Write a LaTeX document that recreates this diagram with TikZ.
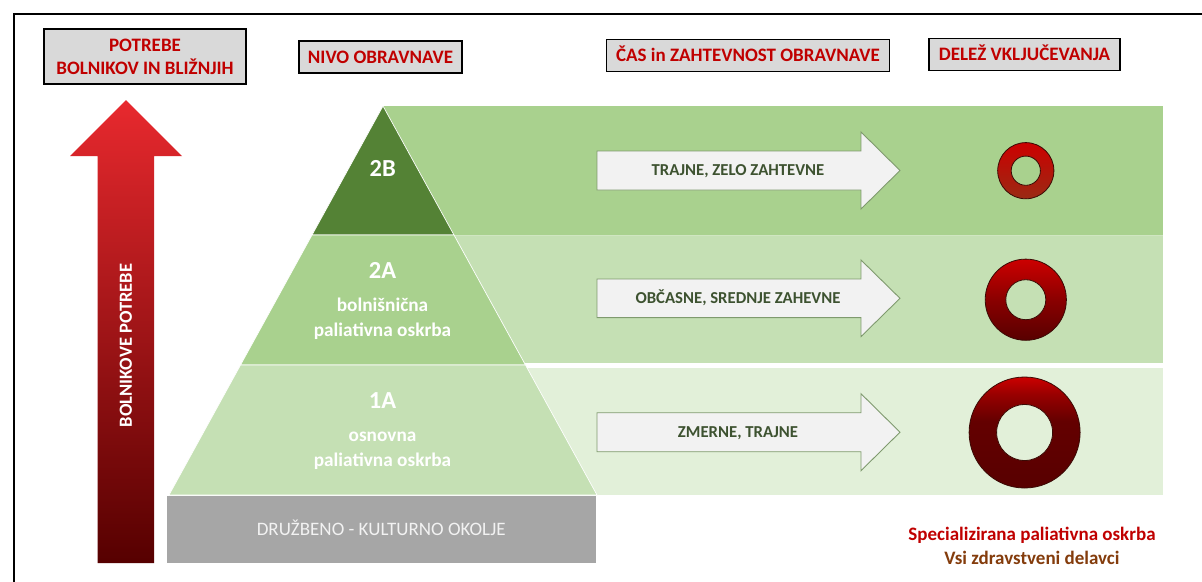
\documentclass[tikz,border=0pt]{standalone}
\usepackage{fontspec}
\setmainfont{Carlito}
\definecolor{hdrred}{HTML}{C00000}
\definecolor{hdrgray}{HTML}{D9D9D9}
\definecolor{gdark}{HTML}{548235}
\definecolor{gmid}{HTML}{A9D18E}
\definecolor{glight}{HTML}{C5E0B4}
\definecolor{gpale}{HTML}{E2F0D9}
\definecolor{basegray}{HTML}{A6A6A6}
\definecolor{arrfill}{HTML}{F2F2F2}
\definecolor{arrline}{HTML}{7F9A6E}
\definecolor{arrtext}{HTML}{3D5230}
\definecolor{brownish}{HTML}{843C0C}
\definecolor{redtop}{HTML}{E8292E}
\definecolor{redmid}{HTML}{A8161B}
\definecolor{redbot}{HTML}{560000}
\definecolor{dnline}{HTML}{3A0A05}
\definecolor{dnred}{HTML}{CC0000}
\definecolor{dnbrown}{HTML}{9A2A14}
\definecolor{dndark}{HTML}{580000}
\definecolor{dnmid}{HTML}{8A0000}
\pgfdeclareverticalshading{dntwo}{100bp}{color(0bp)=(dndark); color(25bp)=(dndark); color(50bp)=(dnmid); color(75bp)=(dnred); color(100bp)=(dnred)}
\pgfdeclareverticalshading{dnthree}{100bp}{color(0bp)=(dndark); color(25bp)=(dndark); color(55bp)=(dndark!90!dnred); color(67bp)=(dnmid!80!dnred); color(75bp)=(dnred); color(100bp)=(dnred)}
\tikzset{
  hdrbox/.style={draw=black, line width=1.4pt, fill=hdrgray, text=hdrred, inner sep=0pt,
    font=\bfseries\fontsize{19}{23}\selectfont, align=center},
  onetext/.style={text height=12.2pt, text depth=0pt},
  widearrow/.style={fill=arrfill, draw=arrline, line width=0.9pt},
  arrlabel/.style={text=arrtext, inner sep=0pt, font=\bfseries\fontsize{16.7}{20}\selectfont,
    text height=10.7pt, text depth=0pt},
  levelname/.style={anchor=base, text=white, inner sep=0pt, font=\bfseries\fontsize{24.5}{28}\selectfont},
  levelsub/.style={anchor=base, text=white, inner sep=0pt, font=\bfseries\fontsize{19.3}{22}\selectfont},
  pyr/.style={draw=white, line width=0.7pt},
  dnring/.style={draw=dnline, line width=0.8pt},
}
\begin{document}
\begin{tikzpicture}[x=1pt,y=-1pt]
\useasboundingbox (0,0) rectangle (1202,581);
\fill[white] (0,0) rectangle (1202,581);
% frame
\draw[line width=2pt, black] (14,590) -- (14,13.5) -- (1210,13.5);

% header boxes
\node[hdrbox, minimum width=201.7pt, minimum height=55pt] (needsbox) at (145,56.5) {POTREBE\\BOLNIKOV IN BLIŽNJIH};
\node[hdrbox, onetext, minimum width=163pt, minimum height=32pt] (levelbox) at (380.5,57) {NIVO OBRAVNAVE};
\node[hdrbox, onetext, minimum width=283pt, minimum height=32pt] (timebox) at (748,55.5) {ČAS in ZAHTEVNOST OBRAVNAVE};
\node[hdrbox, onetext, minimum width=191pt, minimum height=32pt] (sharebox) at (1024.5,54.5) {DELEŽ VKLJUČEVANJA};

% bands
\fill[gmid] (383,106) rectangle (1163,234.5);
\fill[glight] (383,235.5) rectangle (1163,363.3);
\fill[gpale] (383,367.7) rectangle (1163,495);
\draw[white!45!gmid, line width=1pt] (454,235) -- (1163,235);

% pyramid
\filldraw[pyr, fill=gdark] (383,106) -- (454,235) -- (312,235) -- cycle;
\filldraw[pyr, fill=gmid] (312,235) -- (454,235) -- (525.5,365) -- (240.5,365) -- cycle;
\filldraw[pyr, fill=glight] (240.5,365) -- (525.5,365) -- (597,495) -- (169,495) -- cycle;

\node[levelname] (l2b) at (382.8,176.7) {2B};
\node[levelname] (l2a) at (382.5,278.3) {2A};
\node[levelsub] (l2asub) at (382.5,311) {bolnišnična};
\node[levelsub] (l2asub2) at (382.5,336.7) {paliativna oskrba};
\node[levelname] (l1a) at (382.5,408.3) {1A};
\node[levelsub] (l1asub) at (382.5,441.7) {osnovna};
\node[levelsub] (l1asub2) at (382.5,466) {paliativna oskrba};

% base
\node[fill=basegray, minimum width=429.5pt, minimum height=67pt, inner sep=0pt,
  text=arrfill, font=\fontsize{19}{22}\selectfont, text height=12.2pt, text depth=0pt]
  (base) at (381.25,529.5) {DRUŽBENO - KULTURNO OKOLJE};

% red arrow
\shade[top color=redtop, middle color=redmid, bottom color=redbot]
  (126,100) -- (182,156) -- (154,156) -- (154,563) -- (97.6,563) -- (97.6,156) -- (70,156) -- cycle;
\node[rotate=90, text=white, inner sep=0pt, font=\bfseries\fontsize{18.5}{22}\selectfont,
  text height=11.9pt, text depth=0pt] (needs) at (125.8,345.5) {BOLNIKOVE POTREBE};

% white arrows
\draw[widearrow] (597,151) -- (861,151) -- (861,132) -- (900,170.5) -- (861,209) -- (861,190) -- (597,190) -- cycle;
\node[arrlabel] (t1) at (738,170.5) {TRAJNE, ZELO ZAHTEVNE};
\draw[widearrow] (597,279) -- (861,279) -- (861,260) -- (900,298.3) -- (861,336.6) -- (861,317.6) -- (597,317.6) -- cycle;
\node[arrlabel] (t2) at (738,298.3) {OBČASNE, SREDNJE ZAHEVNE};
\draw[widearrow] (597,412.7) -- (861,412.7) -- (861,393.7) -- (900,432.2) -- (861,470.7) -- (861,451.7) -- (597,451.7) -- cycle;
\node[arrlabel] (t3) at (738,432.2) {ZMERNE, TRAJNE};

% donuts
\shade[top color=dnred, bottom color=dnbrown] (1025.8,170.7) circle[radius=28.1];
\draw[dnring] (1025.8,170.7) circle[radius=28.1];
\filldraw[dnring, fill=gmid] (1025.8,170.7) circle[radius=14.6];

\shade[shading=dntwo] (1025.8,299.7) circle[radius=40.6];
\draw[dnring] (1025.8,299.7) circle[radius=40.6];
\filldraw[dnring, fill=glight] (1025.8,299.7) circle[radius=20];

\shade[shading=dnthree] (1024.6,432.5) circle[radius=55.5];
\draw[dnring] (1024.6,432.5) circle[radius=55.5];
\filldraw[dnring, fill=gpale] (1024.6,432.5) circle[radius=28];

% legend
\node[anchor=base, text=hdrred, inner sep=0pt, font=\bfseries\fontsize{19}{23}\selectfont] (spec) at (1032,540.5) {Specializirana paliativna oskrba};
\node[anchor=base, text=brownish, inner sep=0pt, font=\bfseries\fontsize{19}{23}\selectfont] (all) at (1032,564.5) {Vsi zdravstveni delavci};
\end{tikzpicture}
\end{document}
